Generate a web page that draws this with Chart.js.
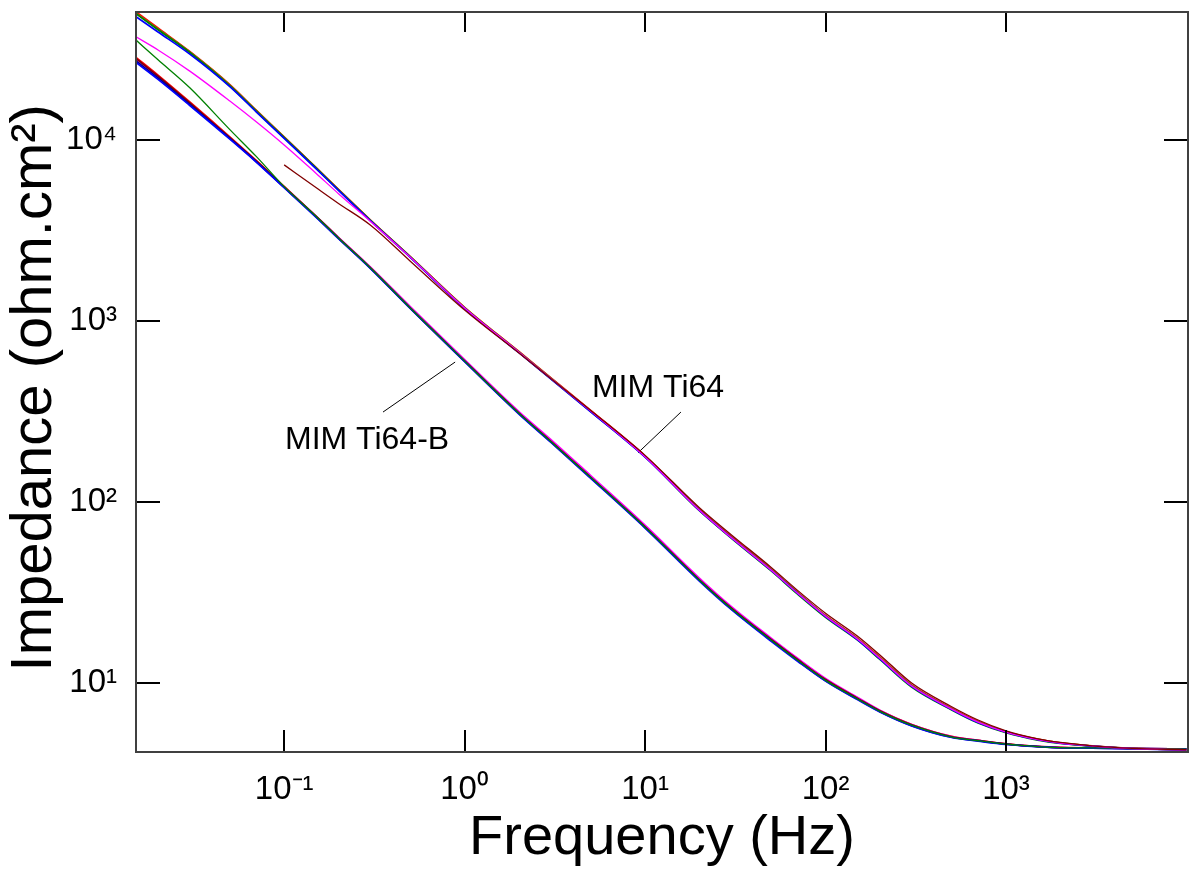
<!DOCTYPE html>
<html>
<head>
<meta charset="utf-8">
<script src="https://cdn.jsdelivr.net/npm/chart.js@4.4.1/dist/chart.umd.min.js"></script>
<style>
  html, body { margin: 0; padding: 0; background: #fff; }
  #wrap { width: 1190px; height: 872px; }
</style>
</head>
<body>
<div id="wrap"><canvas id="eisChart"></canvas></div>
<script>
// Frequency grid (Hz) shared by all traces
const freq = [0.0151, 0.02, 0.03, 0.05, 0.07, 0.1, 0.15, 0.2, 0.3, 0.5, 1, 2, 3, 5, 10, 20, 30, 50, 70, 100,
  150, 200, 300, 500, 700, 1000, 1500, 2000, 3000, 5000, 10000];

// MIM Ti64 - impedance modulus (ohm.cm2)
const ti64Red = [51000, 41500, 30800, 20200, 14600, 10400, 7050, 5330, 3620, 2270, 1190, 678, 486, 321, 180, 91, 64.5, 42.5, 31.8, 23.6,
  17.7, 13.9, 9.75, 7.25, 6.15, 5.40, 4.90, 4.68, 4.50, 4.36, 4.28];
const ti64Olive = [50200, 41000, 30600, 20100, 14550, 10380, 7030, 5320, 3610, 2265, 1185, 675, 484, 319, 179, 90.5, 64, 42.3, 31.6, 23.5,
  17.6, 13.8, 9.7, 7.2, 6.1, 5.38, 4.88, 4.67, 4.49, 4.35, 4.27];
const ti64Green = [49800, 40600, 30400, 19900, 14400, 10300, 7000, 5290, 3600, 2255, 1178, 670, 480, 316, 177.5, 89.5, 63.2, 41.6, 31.0, 23.1,
  17.3, 13.5, 9.5, 7.1, 6.02, 5.32, 4.84, 4.64, 4.48, 4.35, 4.27];
const ti64Blue = [48000, 39500, 29800, 19700, 14300, 10200, 6950, 5260, 3580, 2245, 1172, 668, 479, 315, 177, 89.8, 63.5, 41.9, 31.3, 23.3,
  17.4, 13.6, 9.6, 7.15, 6.05, 5.35, 4.86, 4.65, 4.48, 4.34, 4.27];
const ti64Magenta = [37100, 31400, 24000, 16400, 12600, 9380, 6550, 5050, 3560, 2250, 1180, 672, 482, 318, 178, 90, 63.6, 42.0, 31.3, 23.4,
  17.5, 13.7, 9.62, 7.18, 6.09, 5.36, 4.87, 4.66, 4.49, 4.35, 4.27];
const ti64Brown = [null, null, null, null, null, 7280, 5460, 4460, 3390, 2140, 1150, 665, 481, 320, 181, 93, 66, 43.5, 32.5, 24.3,
  18.2, 14.3, 10.0, 7.4, 6.25, 5.45, 4.92, 4.70, 4.50, 4.36, 4.28];

// MIM Ti64-B - impedance modulus (ohm.cm2)
const ti64bRed = [28600, 22800, 16200, 10400, 7700, 5540, 3800, 2890, 1975, 1185, 604, 312, 219, 138, 73.5, 37.5, 26.2, 17.5, 13.6, 10.5,
  8.3, 7.05, 5.9, 5.07, 4.83, 4.62, 4.47, 4.41, 4.38, 4.35, 4.32];
const ti64bBrown = [28200, 22500, 16000, 10300, 7650, 5500, 3790, 2880, 1970, 1182, 602, 310, 217, 137, 73, 37.2, 26, 17.4, 13.5, 10.45,
  8.25, 7.02, 5.88, 5.05, 4.82, 4.61, 4.46, 4.40, 4.38, 4.35, 4.32];
const ti64bBlue = [26800, 21600, 15500, 10100, 7550, 5450, 3750, 2850, 1955, 1172, 596, 306, 214, 135, 71.8, 36.6, 25.5, 17.0, 13.2, 10.25,
  8.1, 6.92, 5.8, 5.0, 4.78, 4.58, 4.45, 4.39, 4.37, 4.34, 4.32];
const ti64bNavy = [27300, 22000, 15700, 10200, 7600, 5470, 3760, 2860, 1960, 1175, 598, 308, 215, 136, 72.3, 36.9, 25.7, 17.2, 13.3, 10.3,
  8.15, 6.95, 5.82, 5.02, 4.8, 4.59, 4.45, 4.39, 4.37, 4.34, 4.32];
const ti64bGreen = [35600, 27700, 19400, 11400, 8110, 5520, 3790, 2875, 1968, 1180, 600, 309, 216, 136.5, 72.6, 37, 25.8, 17.25, 13.35, 10.35,
  8.18, 6.98, 5.85, 5.03, 4.8, 4.6, 4.46, 4.40, 4.38, 4.35, 4.32];
const ti64bMagenta = [28000, 22400, 15900, 10250, 7620, 5480, 3800, 2900, 1990, 1200, 612, 316, 222, 140, 74.5, 38, 26.5, 17.7, 13.7, 10.6,
  8.35, 7.08, 5.9, 5.06, 4.82, 4.6, 4.46, 4.40, 4.38, 4.35, 4.32];

// Axis ticks
const xTickValues = [0.1, 1, 10, 100, 1000];
const xTickLabels = ['10⁻¹', '10⁰', '10¹', '10²', '10³'];
const yTickValues = [10, 100, 1000, 10000];
const yTickLabels = ['10¹', '10²', '10³', '10⁴'];

// Sample labels with leader lines: [freq, |Z|]
const noteText = ['MIM Ti64', 'MIM Ti64-B'];
const noteAt = [[11.8, 427], [0.288, 220]];
const leaderTi64 = [[15.8, 314], [9.14, 187]];
const leaderTi64b = [[0.353, 314], [0.886, 593]];

const FONT = '"Liberation Sans", Arial, Helvetica, sans-serif';

function pts(values) {
  return freq.map((f, i) => ({ x: f, y: values[i] })).filter(p => p.y !== null);
}

function trace(values, color, width) {
  return {
    data: pts(values),
    borderColor: color,
    borderWidth: width || 1.7,
    pointRadius: 0,
    fill: false,
    cubicInterpolationMode: 'monotone'
  };
}

function leader(pair) {
  return {
    data: pair.map(p => ({ x: p[0], y: p[1] })),
    borderColor: '#000',
    borderWidth: 1,
    pointRadius: 0,
    fill: false
  };
}

// frame, inward tick marks and sample labels
const frameAndNotes = {
  id: 'frameAndNotes',
  afterDatasetsDraw(chart) {
    const { ctx, chartArea: a, scales: { x, y } } = chart;
    ctx.save();
    ctx.strokeStyle = '#000';
    ctx.lineWidth = 2;
    ctx.beginPath();
    x.ticks.forEach(t => {
      const px = Math.round(x.getPixelForValue(t.value));
      ctx.moveTo(px, a.bottom); ctx.lineTo(px, a.bottom - 22);
      ctx.moveTo(px, a.top); ctx.lineTo(px, a.top + 20);
    });
    y.ticks.forEach(t => {
      const py = Math.round(y.getPixelForValue(t.value));
      ctx.moveTo(a.left, py); ctx.lineTo(a.left + 24, py);
      ctx.moveTo(a.right, py); ctx.lineTo(a.right - 24, py);
    });
    ctx.stroke();
    ctx.strokeStyle = '#404040';
    ctx.strokeRect(a.left, a.top, a.right - a.left, a.bottom - a.top);

    ctx.fillStyle = '#000';
    ctx.font = '32px ' + FONT;
    ctx.textAlign = 'center';
    ctx.textBaseline = 'middle';
    noteText.forEach((txt, i) => {
      ctx.fillText(txt, x.getPixelForValue(noteAt[i][0]), y.getPixelForValue(noteAt[i][1]));
    });
    ctx.restore();
  }
};

new Chart(document.getElementById('eisChart'), {
  type: 'line',
  data: {
    datasets: [
      trace(ti64Brown, '#800000', 1.3),
      trace(ti64Magenta, '#ff00ff', 1.3),
      trace(ti64Blue, '#0000ff'),
      trace(ti64Green, '#008000'),
      trace(ti64Olive, '#808000'),
      trace(ti64Red, '#ff0000'),
      trace(ti64bGreen, '#008000', 1.3),
      trace(ti64bBlue, '#0000ff'),
      trace(ti64bNavy, '#000080'),
      trace(ti64bBrown, '#800000'),
      trace(ti64bMagenta, '#ff00ff'),
      trace(ti64bRed, '#ff0000'),
      leader(leaderTi64),
      leader(leaderTi64b)
    ]
  },
  options: {
    responsive: true,
    maintainAspectRatio: false,
    animation: false,
    layout: { padding: { top: 12, right: 2, left: 0, bottom: 0 } },
    plugins: { legend: { display: false }, tooltip: { enabled: false } },
    scales: {
      x: {
        type: 'logarithmic',
        position: 'bottom',
        min: 0.0151,
        max: 10200,
        grid: { display: false, drawTicks: false },
        border: { display: false },
        afterBuildTicks: s => { s.ticks = xTickValues.map(v => ({ value: v })); },
        afterFit: s => { s.height = 120; s.paddingLeft = 0; s.paddingRight = 0; },
        ticks: {
          autoSkip: false,
          maxRotation: 0,
          padding: 18,
          color: '#000',
          font: { family: FONT, size: 33 },
          callback: v => xTickLabels[xTickValues.indexOf(v)]
        },
        title: {
          display: true,
          text: 'Frequency (Hz)',
          color: '#000',
          font: { family: FONT, size: 56 },
          padding: 0
        }
      },
      y: {
        type: 'logarithmic',
        position: 'left',
        min: 4.16,
        max: 50900,
        grid: { display: false, drawTicks: false },
        border: { display: false },
        afterBuildTicks: s => { s.ticks = yTickValues.map(v => ({ value: v })); },
        afterFit: s => { s.width = 136; s.paddingTop = 0; s.paddingBottom = 0; },
        ticks: {
          autoSkip: false,
          padding: 19,
          color: '#000',
          font: { family: FONT, size: 33 },
          callback: v => yTickLabels[yTickValues.indexOf(v)]
        },
        title: {
          display: true,
          text: 'Impedance (ohm.cm²)\u2009',
          color: '#000',
          font: { family: FONT, size: 58 },
          padding: { top: 0, bottom: 0 }
        }
      }
    }
  },
  plugins: [frameAndNotes]
});
</script>
</body>
</html>
